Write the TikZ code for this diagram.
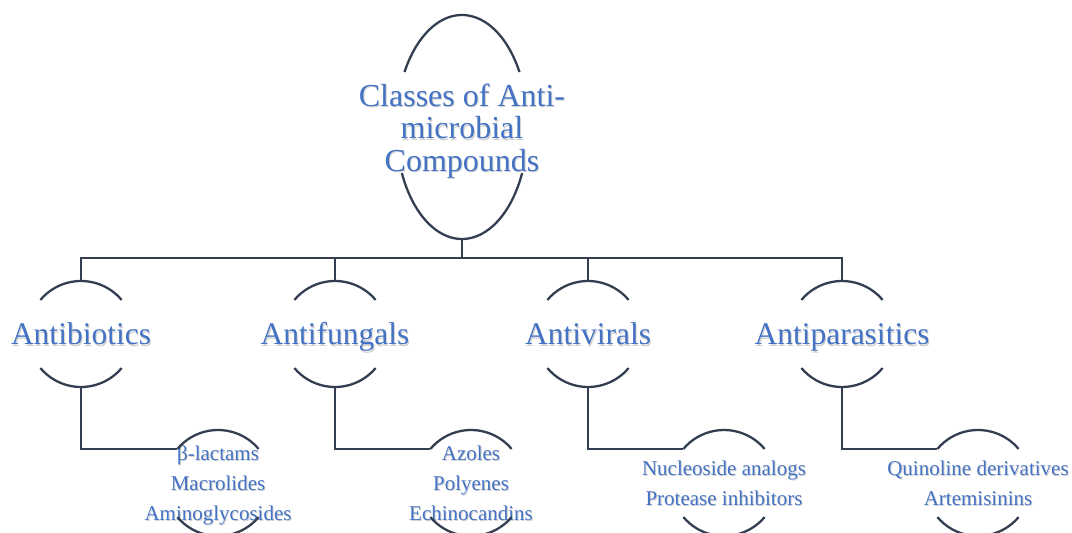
\documentclass[tikz,border=0pt]{standalone}
\usepackage{fontspec}
\setmainfont{Liberation Serif}
\usetikzlibrary{shapes.geometric}
\definecolor{ringcol}{HTML}{333F50}
\definecolor{textcol}{HTML}{4472C4}
% text with a light shadow
\newcommand{\shd}[1]{\strut\rlap{\kern1pt\raisebox{-1.5pt}{\color{black!18}#1}}#1}
% arcs of a ring, above and below its text
\newcommand{\ringarcs}[5]{%
  \draw[ringline] ([shift={(#4:#2 and #3)}]#1.center) arc[start angle=#4,end angle=180-#4,x radius=#2,y radius=#3];
  \draw[ringline] ([shift={(-#5:#2 and #3)}]#1.center) arc[start angle=-#5,end angle=-180+#5,x radius=#2,y radius=#3];}

\begin{document}
\begin{tikzpicture}[x=1pt,y=1pt,
    ringline/.style={draw=ringcol,line width=2.3pt},
    ring/.style={ellipse,inner sep=0pt,outer sep=0pt,minimum width=106pt,minimum height=106pt},
    toptext/.style={text=textcol,align=center,font=\fontsize{32}{32.5}\selectfont},
    midtext/.style={text=textcol,align=center,font=\fontsize{31.5}{34}\selectfont},
    leaftext/.style={text=textcol,align=center,font=\fontsize{21}{30}\selectfont}]
  \useasboundingbox (0,0) rectangle (1072,-533);

  % root
  \node[ring,minimum width=132pt,minimum height=224pt] (classes) at (462,-127) {};
  \node[toptext] (classes-t) at ([yshift=-5pt]classes.center)
    {\shd{Classes of Anti-}\\\shd{microbial}\\\shd{Compounds}};
  \ringarcs{classes}{66}{112}{29.4}{24.3}

  % classes
  \node[ring] (abio) at (81,-334) {};
  \node[ring] (afung) at (335,-334) {};
  \node[ring] (avir) at (588,-334) {};
  \node[ring] (apara) at (842,-334) {};
  \node[midtext] (abio-t) at ([yshift=-4pt]abio.center) {\shd{Antibiotics}};
  \node[midtext] (afung-t) at ([yshift=-4pt]afung.center) {\shd{Antifungals}};
  \node[midtext] (avir-t) at ([yshift=-4pt]avir.center) {\shd{Antivirals}};
  \node[midtext] (apara-t) at ([yshift=-4pt]apara.center) {\shd{Antiparasitics}};

  % examples
  \node[ring] (abio-l) at (218,-483) {};
  \node[ring] (afung-l) at (471,-483) {};
  \node[ring] (avir-l) at (724,-483) {};
  \node[ring] (apara-l) at (978,-483) {};
  \node[leaftext] (abio-lt) at ([yshift=-1pt]abio-l.center)
    {\shd{β-lactams}\\\shd{Macrolides}\\\shd{Aminoglycosides}};
  \node[leaftext] (afung-lt) at ([yshift=-1pt]afung-l.center)
    {\shd{Azoles}\\\shd{Polyenes}\\\shd{Echinocandins}};
  \node[leaftext] (avir-lt) at ([yshift=-1pt]avir-l.center)
    {\shd{Nucleoside analogs}\\\shd{Protease inhibitors}};
  \node[leaftext] (apara-lt) at ([yshift=-1pt]apara-l.center)
    {\shd{Quinoline derivatives}\\\shd{Artemisinins}};

  % connectors
  \coordinate (bus) at (462,-258);
  \draw[ringline] (classes.south) -- (bus);
  \foreach \n in {abio,afung,avir,apara} {
    \draw[ringline] (\n.north) |- (bus);
    \draw[ringline] (\n.south) |- (\n-l.140);
    \ringarcs{\n}{53}{53}{40}{40}
    \ringarcs{\n-l}{53}{53}{40}{40}
  }
\end{tikzpicture}
\end{document}
